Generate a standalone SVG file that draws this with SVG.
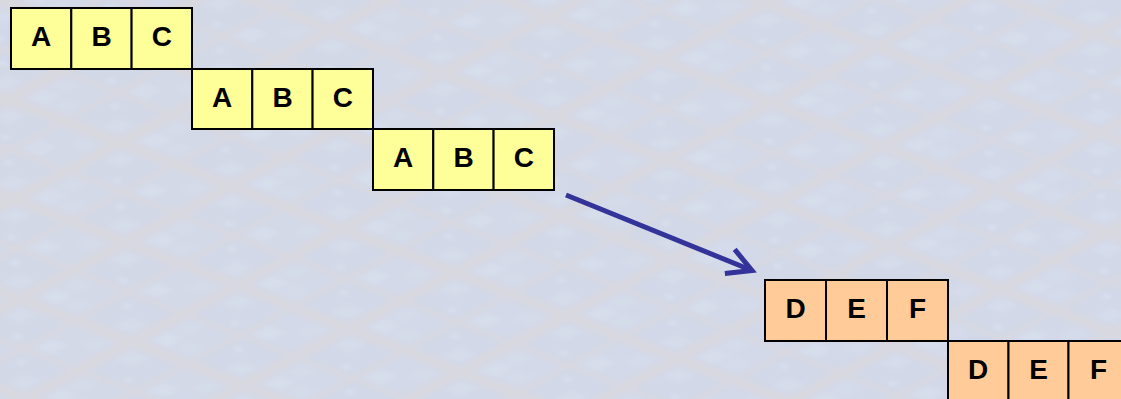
<svg xmlns="http://www.w3.org/2000/svg" width="1121" height="399" viewBox="0 0 1121 399">
  <defs>
    <style>
      .cell-abc { fill: #FFFF99; stroke: #000; stroke-width: 2; }
      .cell-def { fill: #FFCC99; stroke: #000; stroke-width: 2; }
      .lbl { font-family: "Liberation Sans", Arial, sans-serif; font-weight: bold; font-size: 28px; fill: #000; text-anchor: middle; }
      .flow { stroke: #333399; stroke-width: 5; fill: none; }
    </style>
    <!-- soft background tint -->
    <linearGradient id="bgTint" x1="0" y1="0" x2="1" y2="0.4">
      <stop offset="0" stop-color="#D7D9E4"/>
      <stop offset="0.5" stop-color="#D4D9E8"/>
      <stop offset="1" stop-color="#D2D8EB"/>
    </linearGradient>
    <!-- skewed die-grid texture: streets between blocks, blocks split into sub-tiles -->
    <pattern id="dieGrid" width="120" height="120" patternUnits="userSpaceOnUse"
             patternTransform="matrix(0.93 0.36 0.88 -0.47 0 0)">
      <rect x="0" y="0" width="120" height="120" fill="#D9D8DF"/>
      <rect x="8" y="8" width="50" height="50" fill="#D3D9E8"/>
      <rect x="64" y="8" width="50" height="50" fill="#D2D8E7"/>
      <rect x="8" y="64" width="50" height="50" fill="#D2D8E7"/>
      <rect x="64" y="64" width="50" height="50" fill="#D3D9E8"/>
      <rect x="11" y="11" width="20" height="20" fill="#D7DEEC"/>
      <rect x="35" y="11" width="20" height="20" fill="#D5DCEA"/>
      <rect x="11" y="35" width="20" height="20" fill="#D5DCEA"/>
      <rect x="67" y="67" width="20" height="20" fill="#D7DEEC"/>
      <rect x="91" y="91" width="20" height="20" fill="#D5DCEA"/>
      <rect x="91" y="11" width="20" height="20" fill="#D6DDEB"/>
      <rect x="11" y="91" width="20" height="20" fill="#D6DDEB"/>
      <rect x="40" y="70" width="8" height="6" fill="#DCE2EE"/>
      <rect x="72" y="40" width="8" height="6" fill="#DCE2EE"/>
    </pattern>
    <filter id="haze" x="-5%" y="-5%" width="110%" height="110%">
      <feGaussianBlur stdDeviation="2"/>
    </filter>
    <marker id="openHead" markerUnits="userSpaceOnUse" markerWidth="60" markerHeight="60"
            refX="0" refY="0" orient="auto" overflow="visible">
      <path d="M-24,-13 L0,0 L-24,13" fill="none" stroke="#333399" stroke-width="5" stroke-linejoin="miter"/>
    </marker>
  </defs>

  <!-- background -->
  <g id="background">
    <rect x="0" y="0" width="1121" height="399" fill="url(#bgTint)"/>
    <rect x="-20" y="-20" width="1161" height="439" fill="url(#dieGrid)" opacity="0.85" filter="url(#haze)"/>
  </g>

  <!-- connectors -->
  <g id="connectors">
    <line class="flow" x1="566" y1="195" x2="752" y2="270.5" marker-end="url(#openHead)"/>
  </g>

  <g id="abc-1">
    <rect class="cell-abc" x="11" y="8" width="60.3" height="61"/>
    <rect class="cell-abc" x="71.3" y="8" width="60.3" height="61"/>
    <rect class="cell-abc" x="131.6" y="8" width="60.4" height="61"/>
    <text class="lbl" x="41" y="46">A</text>
    <text class="lbl" x="101.5" y="46">B</text>
    <text class="lbl" x="161.8" y="46">C</text>
  </g>

  <g id="abc-2">
    <rect class="cell-abc" x="192" y="69" width="60.3" height="60"/>
    <rect class="cell-abc" x="252.3" y="69" width="60.3" height="60"/>
    <rect class="cell-abc" x="312.6" y="69" width="60.4" height="60"/>
    <text class="lbl" x="222" y="106.5">A</text>
    <text class="lbl" x="282.5" y="106.5">B</text>
    <text class="lbl" x="342.8" y="106.5">C</text>
  </g>

  <g id="abc-3">
    <rect class="cell-abc" x="373" y="129" width="60.3" height="61"/>
    <rect class="cell-abc" x="433.3" y="129" width="60.3" height="61"/>
    <rect class="cell-abc" x="493.6" y="129" width="60.4" height="61"/>
    <text class="lbl" x="403" y="167">A</text>
    <text class="lbl" x="463.5" y="167">B</text>
    <text class="lbl" x="523.8" y="167">C</text>
  </g>

  <g id="def-1">
    <rect class="cell-def" x="765" y="280" width="61" height="61"/>
    <rect class="cell-def" x="826" y="280" width="61" height="61"/>
    <rect class="cell-def" x="887" y="280" width="61" height="61"/>
    <text class="lbl" x="795.5" y="318">D</text>
    <text class="lbl" x="856.5" y="318">E</text>
    <text class="lbl" x="917.5" y="318">F</text>
  </g>

  <g id="def-2">
    <rect class="cell-def" x="948" y="341" width="60.5" height="61"/>
    <rect class="cell-def" x="1008.5" y="341" width="60" height="61"/>
    <rect class="cell-def" x="1068.5" y="341" width="60.5" height="61"/>
    <text class="lbl" x="978" y="379">D</text>
    <text class="lbl" x="1038.5" y="379">E</text>
    <text class="lbl" x="1098.5" y="379">F</text>
  </g>
</svg>
